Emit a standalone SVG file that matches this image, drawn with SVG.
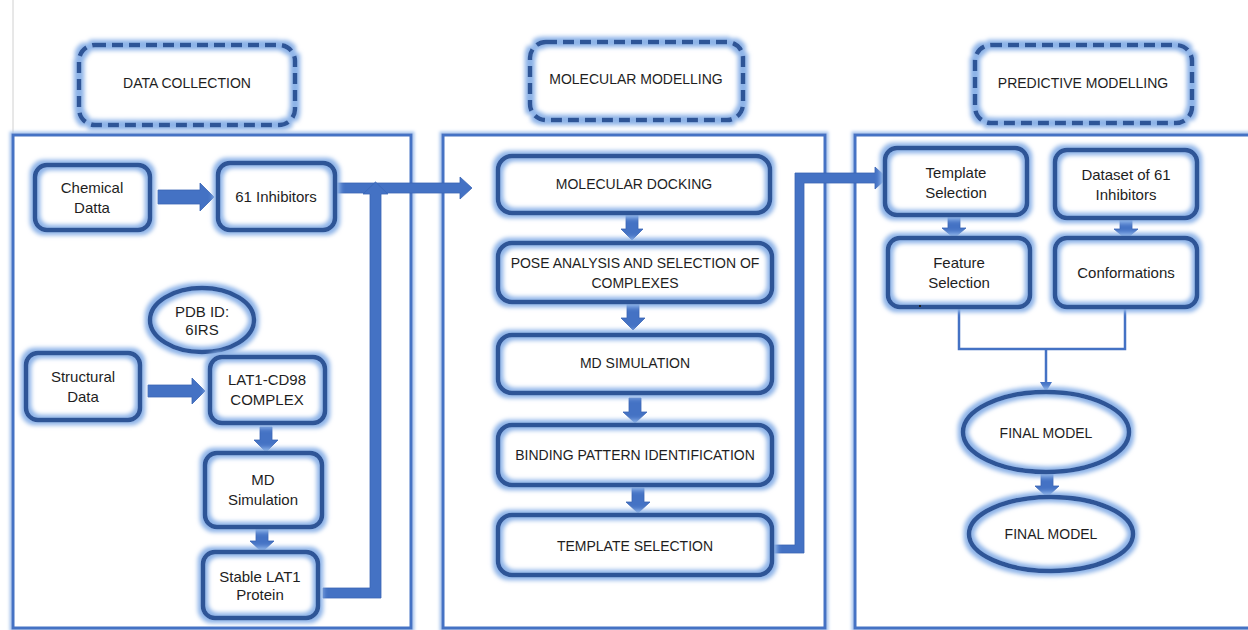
<svg xmlns="http://www.w3.org/2000/svg" width="1248" height="630" viewBox="0 0 1248 630">
<defs>
<style>
.bg{fill:#ffffff}
.fill{fill:#ffffff;stroke:none}
.node{fill:none;stroke:#2F5597;stroke-width:4.5;filter:url(#glow)}
.hdr{fill:none;stroke:#2F5597;stroke-width:4.5;stroke-dasharray:11 6;filter:url(#glow)}
.panel{fill:#ffffff;stroke:#4472C4;stroke-width:3;filter:url(#pglow)}
.blk{fill:#4472C4;stroke:#3A66B5;stroke-width:0.8}
.thin{fill:none;stroke:#4472C4;stroke-width:2.5}
text{font-family:"Liberation Sans",Arial,sans-serif;fill:#1e1e1e;text-anchor:middle}
.t14{font-size:14px}
.t15{font-size:15px}
</style>
<filter id="glow" x="-20%" y="-30%" width="140%" height="160%">
<feMorphology in="SourceAlpha" operator="dilate" radius="2.5" result="d"/>
<feGaussianBlur in="d" stdDeviation="2" result="b"/>
<feFlood flood-color="#8DB3E8"/>
<feComposite in2="b" operator="in" result="g"/>
<feMerge><feMergeNode in="g"/><feMergeNode in="SourceGraphic"/></feMerge>
</filter>
<filter id="pglow" x="-5%" y="-5%" width="110%" height="110%">
<feMorphology in="SourceAlpha" operator="dilate" radius="1.5" result="d"/>
<feGaussianBlur in="d" stdDeviation="1.5" result="b"/>
<feFlood flood-color="#A9C6EE"/>
<feComposite in2="b" operator="in" result="g"/>
<feMerge><feMergeNode in="g"/><feMergeNode in="SourceGraphic"/></feMerge>
</filter>
</defs>
<rect class="bg" x="0" y="0" width="1248" height="630"/>
<line x1="13" y1="0" x2="13" y2="135" stroke="#d0d0d0" stroke-width="1"/>

<g id="panels">
<rect class="panel" x="13" y="135" width="398" height="493"/>
<rect class="panel" x="443" y="135" width="382" height="493"/>
<rect class="panel" x="855" y="135" width="400" height="493"/>
</g>

<g id="header-data-collection">
<rect class="fill" x="79" y="45" width="216" height="80" rx="16"/>
<rect class="hdr" x="79" y="45" width="216" height="80" rx="16"/>
<text class="t14" x="187" y="88">DATA COLLECTION</text>
</g>
<g id="header-molecular-modelling">
<rect class="fill" x="530" y="42" width="213" height="78" rx="16"/>
<rect class="hdr" x="530" y="42" width="213" height="78" rx="16"/>
<text class="t14" x="636" y="84">MOLECULAR MODELLING</text>
</g>
<g id="header-predictive-modelling">
<rect class="fill" x="975" y="45" width="217" height="78" rx="16"/>
<rect class="hdr" x="975" y="45" width="217" height="78" rx="16"/>
<text class="t14" x="1083" y="88">PREDICTIVE MODELLING</text>
</g>

<g id="connectors">
<path class="blk" d="M158,190 H200 V183 L214,197 L200,211 V204 H158 Z"/>
<path class="blk" d="M148,385 H192 V378 L205,391 L192,404 V397 H148 Z"/>
<path class="blk" d="M335,183 H460 V177 L472,188 L460,199 V193 H335 Z"/>
<path class="blk" d="M323,588 H370 V194 H363 L375.5,182 L388,194 H381 V598 H323 Z"/>
<path class="blk" d="M772,545 H795 V173 H875 V167 L887,178 L875,189 V183 H804 V553 H772 Z"/>
<path class="blk" d="M260,427 H272 V440 H278 L266,452 L254,440 H260 Z"/>
<path class="blk" d="M256,528 H268 V541 H274 L262,552 L250,541 H256 Z"/>
<path class="blk" d="M626,215 H638 V229 H643 L632,240 L621,229 H626 Z"/>
<path class="blk" d="M627,303 H639 V318 H645 L633,330 L621,318 H627 Z"/>
<path class="blk" d="M629,398 H641 V412 H647 L635,423 L623,412 H629 Z"/>
<path class="blk" d="M632,488 H644 V502 H650 L638,513 L626,502 H632 Z"/>
<path class="blk" d="M948,216 H960 V228 H966 L954,238 L942,228 H948 Z"/>
<path class="blk" d="M1120,218 H1132 V229 H1138 L1126,239 L1114,229 H1120 Z"/>
<path class="blk" d="M1041,473 H1053 V486 H1059 L1047,497 L1035,486 H1041 Z"/>
<path class="thin" d="M959,307 V349 H1125 V307"/>
<path class="thin" d="M1046,349 V384"/>
<polygon fill="#4472C4" points="1040,382 1052,382 1046,392"/>
</g>

<g id="node-chemical-datta">
<rect class="fill" x="35" y="165" width="115" height="65" rx="12"/>
<rect class="node" x="35" y="165" width="115" height="65" rx="12"/>
<text class="t15" x="92" y="193">Chemical</text>
<text class="t15" x="92" y="213">Datta</text>
</g>
<g id="node-61-inhibitors">
<rect class="fill" x="218" y="163" width="117" height="67" rx="12"/>
<rect class="node" x="218" y="163" width="117" height="67" rx="12"/>
<text class="t15" x="276" y="202">61 Inhibitors</text>
</g>
<g id="node-pdb">
<ellipse class="fill" cx="202" cy="320" rx="52" ry="32"/>
<ellipse class="node" cx="202" cy="320" rx="52" ry="32"/>
<text class="t15" x="202" y="317">PDB ID:</text>
<text class="t15" x="202" y="335">6IRS</text>
</g>
<g id="node-structural-data">
<rect class="fill" x="26" y="353" width="114" height="67" rx="12"/>
<rect class="node" x="26" y="353" width="114" height="67" rx="12"/>
<text class="t15" x="83" y="382">Structural</text>
<text class="t15" x="83" y="402">Data</text>
</g>
<g id="node-lat1-cd98">
<rect class="fill" x="210" y="357" width="115" height="66" rx="12"/>
<rect class="node" x="210" y="357" width="115" height="66" rx="12"/>
<text class="t15" x="267" y="385">LAT1-CD98</text>
<text class="t15" x="267" y="405">COMPLEX</text>
</g>
<g id="node-md-simulation">
<rect class="fill" x="205" y="453" width="117" height="74" rx="12"/>
<rect class="node" x="205" y="453" width="117" height="74" rx="12"/>
<text class="t15" x="263" y="485">MD</text>
<text class="t15" x="263" y="505">Simulation</text>
</g>
<g id="node-stable-lat1">
<rect class="fill" x="203" y="552" width="115" height="66" rx="12"/>
<rect class="node" x="203" y="552" width="115" height="66" rx="12"/>
<text class="t15" x="260" y="582">Stable LAT1</text>
<text class="t15" x="260" y="600">Protein</text>
</g>

<g id="node-molecular-docking">
<rect class="fill" x="498" y="156" width="272" height="57" rx="14"/>
<rect class="node" x="498" y="156" width="272" height="57" rx="14"/>
<text class="t14" x="634" y="189">MOLECULAR DOCKING</text>
</g>
<g id="node-pose-analysis">
<rect class="fill" x="498" y="243" width="274" height="59" rx="14"/>
<rect class="node" x="498" y="243" width="274" height="59" rx="14"/>
<text class="t14" x="635" y="268">POSE ANALYSIS AND SELECTION OF</text>
<text class="t14" x="635" y="288">COMPLEXES</text>
</g>
<g id="node-md-sim-mid">
<rect class="fill" x="498" y="335" width="274" height="58" rx="14"/>
<rect class="node" x="498" y="335" width="274" height="58" rx="14"/>
<text class="t14" x="635" y="368">MD SIMULATION</text>
</g>
<g id="node-binding-pattern">
<rect class="fill" x="498" y="425" width="274" height="60" rx="14"/>
<rect class="node" x="498" y="425" width="274" height="60" rx="14"/>
<text class="t14" x="635" y="460">BINDING PATTERN IDENTIFICATION</text>
</g>
<g id="node-template-selection-mid">
<rect class="fill" x="498" y="515" width="274" height="60" rx="14"/>
<rect class="node" x="498" y="515" width="274" height="60" rx="14"/>
<text class="t14" x="635" y="551">TEMPLATE SELECTION</text>
</g>

<g id="node-template-selection">
<rect class="fill" x="885" y="148" width="142" height="67" rx="12"/>
<rect class="node" x="885" y="148" width="142" height="67" rx="12"/>
<text class="t15" x="956" y="178">Template</text>
<text class="t15" x="956" y="198">Selection</text>
</g>
<g id="node-dataset">
<rect class="fill" x="1055" y="150" width="142" height="68" rx="12"/>
<rect class="node" x="1055" y="150" width="142" height="68" rx="12"/>
<text class="t15" x="1126" y="180">Dataset of 61</text>
<text class="t15" x="1126" y="200">Inhibitors</text>
</g>
<g id="node-feature-selection">
<rect class="fill" x="888" y="238" width="142" height="69" rx="12"/>
<rect class="node" x="888" y="238" width="142" height="69" rx="12"/>
<text class="t15" x="959" y="268">Feature</text>
<text class="t15" x="959" y="288">Selection</text>
</g>
<g id="node-conformations">
<rect class="fill" x="1055" y="238" width="142" height="69" rx="12"/>
<rect class="node" x="1055" y="238" width="142" height="69" rx="12"/>
<text class="t15" x="1126" y="278">Conformations</text>
</g>
<rect x="919" y="305" width="2" height="2" fill="#222"/>
<g id="node-final-model-1">
<ellipse class="fill" cx="1046" cy="432" rx="83" ry="40"/>
<ellipse class="node" cx="1046" cy="432" rx="83" ry="40"/>
<text class="t14" x="1046" y="438">FINAL MODEL</text>
</g>
<g id="node-final-model-2">
<ellipse class="fill" cx="1051" cy="534" rx="82" ry="37"/>
<ellipse class="node" cx="1051" cy="534" rx="82" ry="37"/>
<text class="t14" x="1051" y="539">FINAL MODEL</text>
</g>
</svg>
